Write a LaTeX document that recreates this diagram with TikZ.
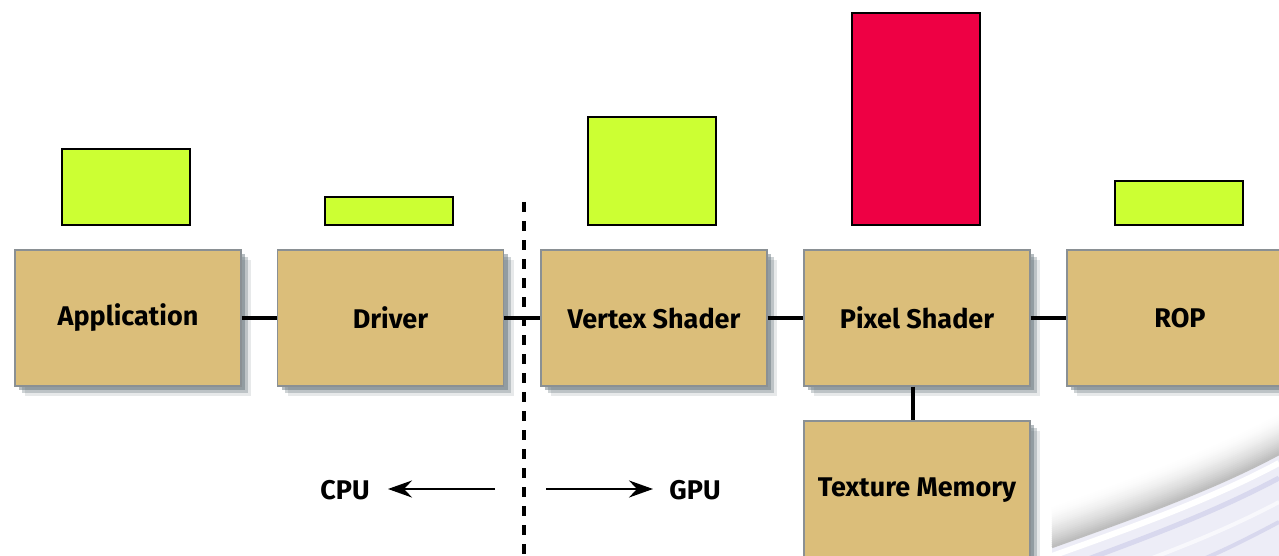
\documentclass[tikz,border=0pt]{standalone}
\usepackage{fontspec}
\setmainfont{Fira Sans}
\usetikzlibrary{arrows.meta,shadows}
\definecolor{tan}{HTML}{DBBE7A}
\definecolor{lime}{HTML}{CCFF33}
\definecolor{hot}{HTML}{EE0044}
\definecolor{edge}{HTML}{8A9094}
\definecolor{shd}{HTML}{5E6E76}
\definecolor{lav}{HTML}{EDEDF7}
\definecolor{lavd}{HTML}{D8D8EE}
\tikzset{
  x=1pt,y=-1pt,
  stage/.style={draw=edge,line width=1.2pt,fill=tan,minimum width=226pt,minimum height=136pt,inner sep=0pt,
    font=\fontsize{27}{31}\selectfont\bfseries,
    drop shadow={shadow xshift=10pt,shadow yshift=-10pt,fill=shd,opacity=.15},
    drop shadow={shadow xshift=7pt,shadow yshift=-7pt,fill=shd,opacity=.3},
    drop shadow={shadow xshift=4pt,shadow yshift=-4pt,fill=shd,opacity=.45}},
  bar/.style={draw=black,line width=2pt,minimum width=128pt,inner sep=0pt},
  link/.style={line width=3.5pt,black},
  lbl/.style={font=\fontsize{27}{31}\selectfont\bfseries,inner sep=0pt},
  arr/.style={line width=2.8pt,-{Stealth[length=24pt,width=17pt,inset=8pt]}}
}
\begin{document}
\begin{tikzpicture}
\useasboundingbox (0,0) rectangle (1279,556);
\fill[white] (0,0) rectangle (1279,556);
% swoosh
\begin{scope}
\clip (1050,392) rectangle (1279,556);
\fill[lav] (1052,548) .. controls (1130,520) and (1210,492) .. (1279,455) -- (1279,556) -- (1052,556) -- cycle;
\draw[white,line width=6pt] (1052,556) .. controls (1130,528) and (1210,500) .. (1279,463);
\draw[lavd,line width=5pt] (1080,562) .. controls (1150,536) and (1215,512) .. (1279,478);
\draw[white!60!lav,line width=4pt] (1120,570) .. controls (1180,548) and (1230,528) .. (1279,502);
\draw[lavd,line width=4pt] (1170,572) .. controls (1210,558) and (1245,540) .. (1279,522);
\foreach \i in {20,19,...,0} {
  \pgfmathsetmacro{\k}{26*(1-\i/20)^1.6}
  \draw[black!\k,line width=2.4pt,yshift=\i*2pt+1pt] (1052,548) .. controls (1130,520) and (1210,492) .. (1279,455);
}
\end{scope}
% stages
\node[stage] (app) at (128,318) {Application};
\node[stage] (drv) at (390.5,318) {Driver};
\node[stage] (vs) at (654,318) {Vertex Shader};
\node[stage] (ps) at (917,318) {Pixel Shader};
\node[stage] (rop) at (1180,318) {ROP};
\node[stage,minimum height=150pt] (tex) at (917,496) {};
\node[lbl] (texl) at (917,490) {Texture Memory};
% bars
\node[bar,fill=lime,minimum height=76pt] (b1) at (125.5,187) {};
\node[bar,fill=lime,minimum height=28pt] (b2) at (389,211) {};
\node[bar,fill=lime,minimum height=108pt] (b3) at (652,171) {};
\node[bar,fill=hot,minimum height=212pt] (b4) at (916,119) {};
\node[bar,fill=lime,minimum height=44pt] (b5) at (1179,203) {};
% links
\draw[link] (app.east) -- (drv.west);
\draw[link] (drv.east) -- (vs.west);
\draw[link] (vs.east) -- (ps.west);
\draw[link] (ps.east) -- (rop.west);
\draw[link] (ps.south -| 913,0) -- (tex.north -| 913,0);
% divider
\coordinate (dtop) at (524,202);
\coordinate (dbot) at (524,556);
\draw[line width=4pt,dash pattern=on 10pt off 9pt] (dtop) -- (dbot);
% cpu / gpu
\node[lbl] (cpu) at (345,490) {CPU};
\node[lbl] (gpu) at (695,490) {GPU};
\coordinate (la) at (495,489);
\coordinate (ra) at (546,489);
\coordinate (lt) at (388,489);
\coordinate (rt) at (653,489);
\draw[arr] (la) -- (lt);
\draw[arr] (ra) -- (rt);
\end{tikzpicture}
\end{document}
